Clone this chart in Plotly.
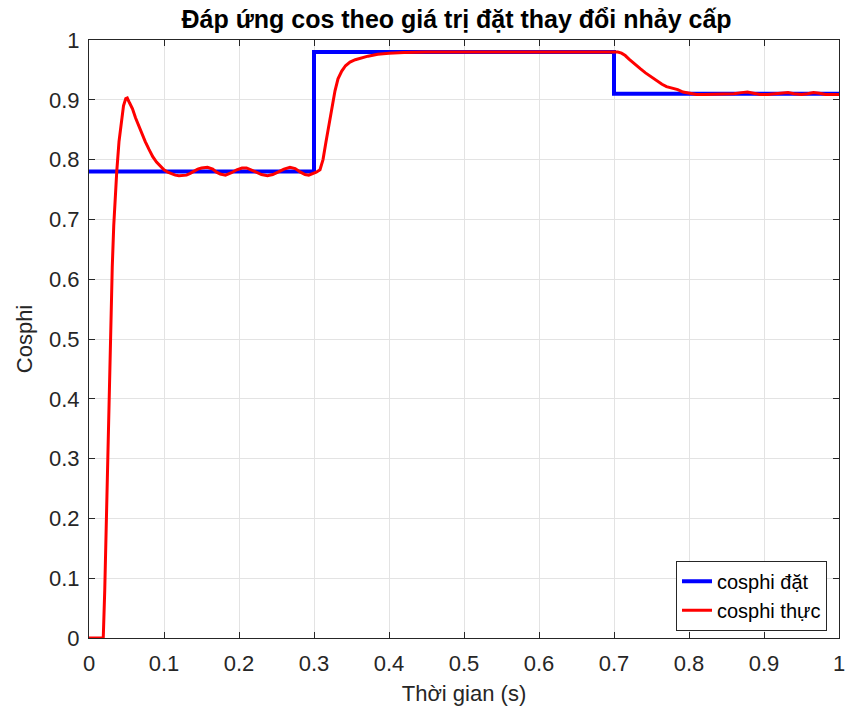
import plotly.graph_objects as go

# Setpoint (step) data
t_set = [0.0, 0.3, 0.7, 1.0]
y_set = [0.78, 0.98, 0.91, 0.91]

# Actual response data
t_act = [0.0, 0.019, 0.021, 0.023, 0.025, 0.027, 0.029, 0.031, 0.033, 0.035, 0.037,
         0.040, 0.043, 0.046, 0.049, 0.051, 0.054, 0.058, 0.062, 0.066, 0.070,
         0.075, 0.080, 0.085, 0.090, 0.095, 0.100, 0.105, 0.110, 0.115, 0.120,
         0.125, 0.130, 0.135, 0.140, 0.145, 0.150, 0.158, 0.165, 0.170, 0.175,
         0.182, 0.190, 0.197, 0.204, 0.210, 0.216, 0.222, 0.230, 0.238, 0.245,
         0.252, 0.260, 0.268, 0.275, 0.282, 0.288, 0.293, 0.298, 0.303, 0.308,
         0.312, 0.316, 0.320, 0.324, 0.328, 0.332, 0.337, 0.342, 0.348, 0.355,
         0.362, 0.372, 0.385, 0.400, 0.420, 0.450, 0.500, 0.550, 0.600, 0.650,
         0.700, 0.705, 0.710, 0.715, 0.720, 0.727, 0.735, 0.742, 0.750, 0.757,
         0.764, 0.770, 0.777, 0.785, 0.792, 0.800, 0.810, 0.820, 0.830, 0.840,
         0.850, 0.860, 0.870, 0.878, 0.886, 0.895, 0.905, 0.915, 0.925, 0.932,
         0.940, 0.950, 0.958, 0.966, 0.974, 0.982, 0.990, 1.000]
y_act = [0.0, 0.0, 0.08, 0.20, 0.32, 0.43, 0.53, 0.62, 0.69, 0.74, 0.78,
         0.83, 0.865, 0.89, 0.902, 0.903, 0.895, 0.885, 0.870, 0.857, 0.845,
         0.830, 0.817, 0.805, 0.796, 0.789, 0.783, 0.779, 0.776, 0.774, 0.773,
         0.773, 0.774, 0.777, 0.781, 0.784, 0.786, 0.787, 0.784, 0.779, 0.776,
         0.774, 0.778, 0.783, 0.786, 0.786, 0.783, 0.779, 0.775, 0.773, 0.775,
         0.779, 0.784, 0.787, 0.785, 0.779, 0.775, 0.774, 0.776, 0.779, 0.783,
         0.800, 0.830, 0.860, 0.890, 0.915, 0.935, 0.948, 0.957, 0.963, 0.967,
         0.970, 0.973, 0.976, 0.978, 0.979, 0.980, 0.980, 0.980, 0.980, 0.980,
         0.980, 0.980, 0.978, 0.974, 0.968, 0.960, 0.952, 0.945, 0.938, 0.932,
         0.926, 0.922, 0.920, 0.917, 0.913, 0.911, 0.909, 0.909, 0.909, 0.909,
         0.909, 0.910, 0.912, 0.913, 0.911, 0.909, 0.909, 0.910, 0.912, 0.912,
         0.910, 0.909, 0.910, 0.912, 0.911, 0.909, 0.909, 0.909]

FONT = "Liberation Sans, Arial, sans-serif"
AXC = "#262626"
GRID = "#e3e3e3"

fig = go.Figure()
fig.add_trace(go.Scatter(x=t_set, y=y_set, mode="lines", line_shape="hv",
                         line=dict(color="#0000ff", width=4), name="cosphi đặt"))
fig.add_trace(go.Scatter(x=t_act, y=y_act, mode="lines",
                         line=dict(color="#ff0000", width=3), name="cosphi thực"))

fig.update_layout(
    width=855, height=717,
    margin=dict(l=89, r=10, t=40, b=79),
    paper_bgcolor="white", plot_bgcolor="white",
    font=dict(family=FONT, color="#262626", size=22),
    title=dict(text="<b>Đáp ứng cos theo giá trị đặt thay đổi nhảy cấp</b>",
               x=0.534, xanchor="center", y=0.973, yanchor="middle",
               font=dict(size=25, color="#000000")),
    showlegend=True,
    legend=dict(x=0.984, y=0.012, xanchor="right", yanchor="bottom",
                bgcolor="white", bordercolor=AXC, borderwidth=1,
                font=dict(size=20, color="#000000"), tracegroupgap=0),
)
fig.update_xaxes(range=[0, 1], dtick=0.1, tick0=0, showgrid=True, gridcolor=GRID,
                 gridwidth=1, zeroline=False, showline=True, linecolor=AXC,
                 linewidth=1, mirror="ticks", ticks="inside", ticklen=6,
                 tickcolor=AXC, tickfont=dict(size=22, color="#262626"),
                 ticklabelstandoff=6,
                 title=dict(text="Thời gian (s)", font=dict(size=22, color="#262626"),
                            standoff=10))
fig.update_yaxes(range=[0, 1], dtick=0.1, tick0=0, showgrid=True, gridcolor=GRID,
                 gridwidth=1, zeroline=False, showline=True, linecolor=AXC,
                 linewidth=1, mirror="ticks", ticks="inside", ticklen=6,
                 tickcolor=AXC, tickfont=dict(size=22, color="#262626"),
                 ticklabelstandoff=4,
                 title=dict(text="Cosphi", font=dict(size=22, color="#262626"),
                            standoff=10))

fig.write_html("out.html")
